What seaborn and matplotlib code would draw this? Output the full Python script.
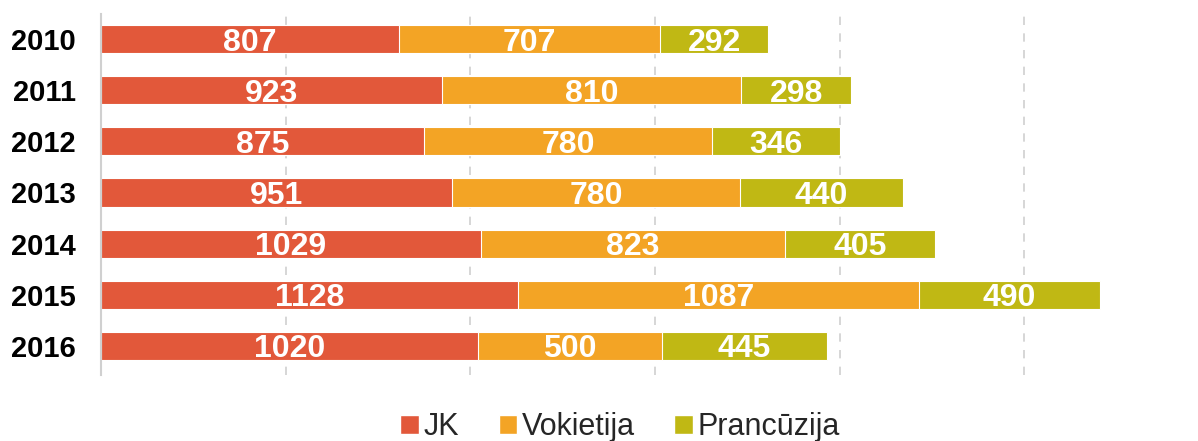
import pandas as pd
import numpy as np
import matplotlib
matplotlib.use("Agg")
from matplotlib import pyplot as plt
from matplotlib.patches import Patch
import seaborn as sb

years = ['2010', '2011', '2012', '2013', '2014', '2015', '2016']
jk = [807, 923, 875, 951, 1029, 1128, 1020]
vokietija = [707, 810, 780, 780, 823, 1087, 500]
prancuzija = [292, 298, 346, 440, 405, 490, 445]

series_names = ['JK', 'Vokietija', 'Prancūzija']
colors = ['#E2583A', '#F3A425', '#C0B814']

sb.set_theme(style='white')
plt.rcParams['font.family'] = ['Liberation Sans', 'DejaVu Sans']

data = pd.DataFrame({'year': years, 'JK': jk, 'Vokietija': vokietija, 'Prancūzija': prancuzija})
data['cum1'] = data['JK']
data['cum2'] = data['JK'] + data['Vokietija']
data['cum3'] = data['cum2'] + data['Prancūzija']

fig = plt.figure(figsize=(11.98, 4.41), dpi=100)
ax = fig.add_axes([101 / 1198, 1 - 375 / 441, (1198 - 101) / 1198, (375 - 14) / 441])

# stacked bars by layering cumulative totals, widest first
for col, color in zip(['cum3', 'cum2', 'cum1'], colors[::-1]):
    sb.barplot(x=col, y='year', data=data, ax=ax, color=color, orient='h',
               width=0.55, edgecolor='white', linewidth=0.8, saturation=1)

# value labels in the middle of each segment
for i, row in data.iterrows():
    starts = [0, row['cum1'], row['cum2']]
    for s, name in zip(starts, series_names):
        ax.text(s + row[name] / 2, i, str(row[name]), ha='center', va='center_baseline',
                color='white', fontsize=23, fontweight='bold')

ax.set_xlim(0, 2970)
ax.set_ylim(6.57, -0.49)
ax.set_xticks([500, 1000, 1500, 2000, 2500])
ax.set_xticklabels([])
ax.xaxis.grid(True, linestyle=(0, (5, 5)), color='#d0d0d0', linewidth=1.2)
ax.set_axisbelow(True)
ax.set_xlabel('')
ax.set_ylabel('')
ax.tick_params(axis='y', length=0, pad=18)
for lbl in ax.get_yticklabels():
    lbl.set_fontsize(21)
    lbl.set_fontweight('bold')
    lbl.set_color('black')
for side in ['top', 'right', 'bottom']:
    ax.spines[side].set_visible(False)
ax.spines['left'].set_color('#d0d0d0')
ax.spines['left'].set_linewidth(1.5)

handles = [Patch(facecolor=c, label=n) for c, n in zip(colors, series_names)]
fig.legend(handles=handles, loc='center', bbox_to_anchor=(620 / 1198, 1 - 427 / 441),
           ncol=3, frameon=False, fontsize=22, handlelength=0.6, handleheight=0.6,
           handletextpad=0.15, columnspacing=1.3, borderaxespad=0)

fig.savefig('out.png', dpi=100)
